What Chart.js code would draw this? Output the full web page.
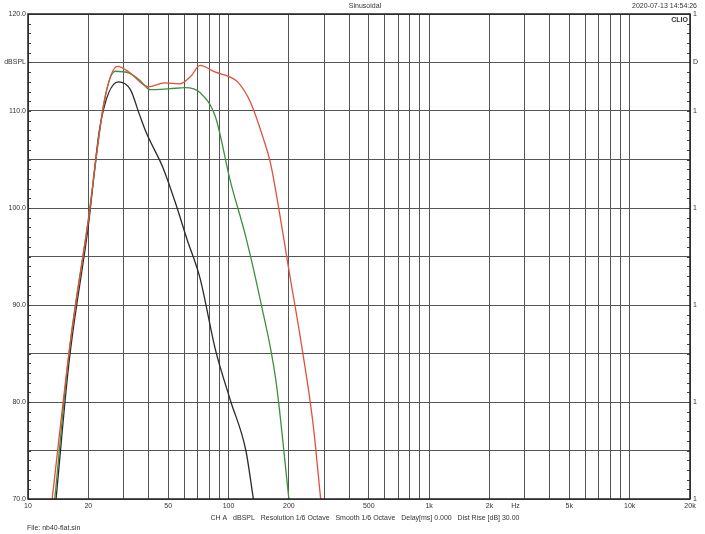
<!DOCTYPE html>
<html><head><script src="https://cdn.jsdelivr.net/npm/chart.js"></script>
<style>body{margin:0;background:#fff}canvas{display:block}</style></head>
<body><canvas id="c" width="705" height="534"></canvas>
<script>
const redF=[13.2,16,20,24,27.9,32,39.8,48,57,65,72,86,102,111,128,150,162,188,200,229,263,288];
const redV=[70,85,98.8,111,114.6,114,112.5,112.9,112.8,113.6,114.7,114,113.5,113,111,107,104.6,97,93.6,86.4,78,70];
const greenF=[13.6,16,20,24,27.2,32,36,40.7,51,60.9,72,86,102,122,144,172,200];
const greenV=[70,85,98.8,111,114.1,113.9,113.2,112.2,112.3,112.4,111.9,109.4,102.8,97,90.5,82.3,70];
const blackF=[13.8,16,20,22.9,28.2,32.4,36,39,47,55,62,72,86,102,122,133];
const blackV=[70,84,98.2,108.5,113,112.2,109.6,107.7,104.2,100.2,96.8,92.8,85.4,80.2,75,70];
const xLabels=[[10,'10'],[20,'20'],[50,'50'],[100,'100'],[200,'200'],[500,'500'],[1000,'1k'],[2000,'2k'],[2700,'Hz'],[5000,'5k'],[10000,'10k'],[20000,'20k']];
const yLabels=[[120,'120.0'],[115,'dBSPL'],[110,'110.0'],[100,'100.0'],[90,'90.0'],[80,'80.0'],[70,'70.0']];
const pts=(f,v)=>f.map((x,i)=>({x,y:v[i]}));
const grid=[];for(let d=10;d<=10000;d*=10)for(let m=1;m<10;m++)grid.push(d*m);grid.push(20000);
const ds=(f,v,c)=>({data:pts(f,v),borderColor:c,borderWidth:1.3,pointRadius:0,cubicInterpolationMode:'monotone',fill:false});
const txt={id:'txt',afterDraw(ch){const g=ch.ctx,x=ch.scales.x,y=ch.scales.y,a=ch.chartArea;
g.save();g.fillStyle='#333';g.font='7px "Liberation Sans"';
g.textAlign='center';g.textBaseline='top';
xLabels.forEach(([f,t])=>g.fillText(t,x.getPixelForValue(f),a.bottom+4));
g.textAlign='right';g.textBaseline='middle';
yLabels.forEach(([v,t])=>g.fillText(t,a.left-2,y.getPixelForValue(v)));
g.textAlign='left';
yLabels.forEach(([v,t])=>g.fillText(t==='dBSPL'?'D':'1',a.right+3,y.getPixelForValue(v)));
g.strokeStyle='#444';g.lineWidth=1;
for(let v=70;v<=120;v++){const p=Math.round(y.getPixelForValue(v))+0.5;g.beginPath();g.moveTo(a.left,p);g.lineTo(a.left+3,p);g.moveTo(a.right,p);g.lineTo(a.right-3,p);g.stroke();}
g.strokeStyle='#222';g.lineWidth=1.5;g.strokeRect(a.left,a.top,a.right-a.left,a.bottom-a.top);
g.textAlign='center';g.textBaseline='middle';g.fillText('Sinusoidal',365,6);
g.textAlign='right';g.fillText('2020-07-13 14:54:26',697,6);
g.font='bold 7px "Liberation Sans"';g.fillText('CLIO',688,20);
g.font='7px "Liberation Sans"';g.textAlign='center';
g.fillText('CH A   dBSPL   Resolution 1/6 Octave   Smooth 1/6 Octave   Delay[ms] 0.000   Dist Rise [dB] 30.00',365,518);
g.textAlign='left';g.fillText('File: nb40-flat.sin',27,528);
g.restore();}};
new Chart(document.getElementById('c'),{type:'line',
data:{datasets:[ds(redF,redV,'#e0503c'),ds(greenF,greenV,'#3e8f3e'),ds(blackF,blackV,'#2a2a2a')]},
options:{responsive:false,animation:false,events:[],layout:{padding:{top:14,right:15,left:0,bottom:0}},
plugins:{legend:{display:false},tooltip:{enabled:false}},
scales:{x:{type:'logarithmic',min:10,max:20000,afterBuildTicks:s=>{s.ticks=grid.map(v=>({value:v}))},
 ticks:{display:false},grid:{color:'#555',lineWidth:1,drawTicks:false},border:{display:false},afterFit:s=>{s.height=35}},
 y:{min:70,max:120,afterBuildTicks:s=>{s.ticks=[];for(let v=70;v<=120;v+=5)s.ticks.push({value:v})},
 ticks:{display:false},grid:{color:'#555',lineWidth:1,drawTicks:false},border:{display:false},afterFit:s=>{s.width=28}}}},
plugins:[txt]});
</script></body></html>
